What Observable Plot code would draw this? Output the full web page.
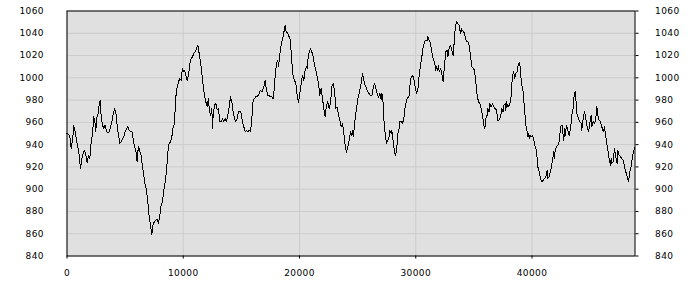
<!DOCTYPE html>
<html>
<head>
<meta charset="utf-8">
<script src="https://cdn.jsdelivr.net/npm/d3@7"></script>
<script src="https://cdn.jsdelivr.net/npm/@observablehq/plot@0.6"></script>
<style>
  html, body { margin: 0; padding: 0; background: #ffffff; }
  #chart svg { display: block; }
</style>
</head>
<body>
<div id="chart"></div>
<script>
const xValues = [
0,129,244,358,473,588,702,817,932,1046,1161,1276,1390,1505,1620,1735,1849,1964,2079,2193,
2308,2423,2480,2537,2652,2767,2853,2939,3053,3168,3283,3397,3512,3627,3741,3856,3971,4086,4200,4315,
4430,4544,4659,4774,4888,5003,5118,5232,5347,5462,5576,5691,5806,5920,6035,6092,6150,6264,6379,6494,
6608,6723,6838,6953,7067,7182,7297,7411,7526,7641,7755,7870,7985,8099,
8215,8330,8444,8559,8674,8788,8903,9018,9132,9247,9305,9362,9477,9591,9706,9821,9878,9935,10050,10107,
10222,10337,10451,10566,10681,10795,10910,11025,11139,11254,11369,11483,11598,11713,11827,11942,12057,12171,12229,12344,
12458,12516,12573,12688,12802,12917,13032,13146,13261,13376,13490,13605,13720,13834,13949,14064,14178,14293,14408,14522,
14637,14752,14866,14981,15096,15211,15325,15440,15555,15669,15784,15899,16013,16128,16243,
16416,16530,16645,16760,16874,16989,17046,17161,17276,17391,17505,17620,17735,17849,17907,18021,18136,18193,18251,18365,
18480,18595,18709,18767,18824,18881,18996,19053,19168,19225,19340,19455,19569,19684,19799,19913,20028,20143,20257,20372,
20487,20601,20659,20716,20831,20946,21060,21175,21290,21404,21519,21634,21748,21863,21978,22092,22207,22322,22436,22551,
22666,22781,22895,23010,23125,23239,23354,23469,23583,23698,23813,23927,24042,24157,24271,
24387,24502,24559,24616,24731,24788,24903,25018,25132,25247,25362,25419,25534,25648,25763,25878,25992,26107,26222,26336,
26451,26566,26680,26795,26910,27024,27082,27139,27197,27254,27369,27483,27598,27713,27770,27885,27942,28000,28114,28229,
28344,28458,28573,28630,28745,28860,28974,29089,29204,29318,29433,29490,29605,29720,29834,29949,30064,30178,30293,30408,
30522,30637,30752,30866,30981,31038,31153,31268,31382,31497,31612,31726,31784,31898,31956,32013,32128,32243,32357,
32416,32530,32588,32702,32760,32874,32989,33104,33218,33276,33333,33390,33505,33620,33734,33849,33907,33964,34021,34136,
34251,34365,34480,34595,34709,34824,34939,35053,35168,35283,35397,35512,35627,35741,35856,35942,36028,36143,36200,36315,
36372,36487,36602,36716,36831,36946,37060,37175,37290,37404,37519,37576,37691,37748,37806,37920,38035,38150,38207,38322,
38436,38494,38608,38723,38780,38838,38952,39010,39124,39239,39354,39468,39583,39641,39698,39755,39813,39927,40042,40157,
40271,40386,
40502,40616,40731,40846,40960,41075,41190,41304,41362,41476,41534,41648,41763,41878,41935,41993,42107,42222,42337,42451,
42509,42623,42681,42738,42795,42853,42967,43082,43197,43254,43311,43426,43541,43598,43655,43713,43770,43827,43885,43999,
44114,44229,44286,44401,44516,44630,44745,44860,44974,45089,45146,45261,45376,45490,45547,45605,45662,45777,45892,46006,
46121,46236,46293,46408,46522,46637,46752,46809,46866,46981,47096,47210,47325,47383,47497,47612,47727,47841,47956,48071,
48185,48300,48415,48529,48644,48759,48860
];

const yValues = [
950.0,949.1,947.9,936.5,944.0,956.9,951.5,944.0,938.0,930.5,918.6,927.5,932.0,935.0,930.5,924.0,930.5,927.5,942.5,950.0,
965.0,959.0,951.5,963.5,966.5,975.4,979.3,965.0,957.5,954.5,957.5,951.5,950.9,951.5,956.0,960.5,967.1,972.4,969.5,957.5,
948.5,941.0,942.5,944.9,947.0,951.5,954.5,956.0,953.0,951.5,952.1,944.9,938.0,935.0,924.6,933.5,938.0,934.1,930.5,920.1,
912.6,903.6,899.1,888.6,875.2,867.7,859.3,869.2,870.7,872.2,873.1,869.2,876.7,885.6,
888.6,899.1,906.6,915.6,933.5,941.0,942.5,947.0,956.0,959.0,972.4,982.9,991.9,996.4,999.4,997.9,1003.9,1008.4,1005.4,1006.9,
1002.4,997.9,1002.4,1012.9,1017.3,1018.8,1021.8,1023.3,1026.3,1029.3,1021.8,1014.4,1003.9,993.4,984.4,978.4,973.9,981.4,972.4,966.5,
972.4,954.5,966.5,975.4,976.9,971.0,972.4,960.5,960.5,963.5,960.5,963.5,960.5,966.5,973.9,982.9,978.4,969.5,963.5,960.5,
963.5,969.5,970.1,968.0,960.5,956.0,951.5,953.0,951.5,953.0,951.5,963.5,979.9,981.4,982.9,
983.8,985.9,988.9,987.4,990.4,993.4,997.9,988.9,984.4,983.8,982.9,982.9,981.4,991.9,1002.4,1012.9,1015.9,1009.9,1015.9,1026.3,
1032.3,1036.8,1044.3,1047.3,1042.8,1041.3,1039.8,1038.3,1035.3,1032.3,1014.4,1000.9,997.9,994.9,984.4,977.8,985.9,994.9,1002.4,997.9,
1006.9,1009.9,1008.4,1015.9,1023.3,1026.3,1023.3,1018.8,1011.4,1006.9,1000.9,994.9,984.4,990.4,981.4,972.4,965.0,975.4,978.4,972.4,
976.9,991.9,994.9,988.9,972.4,973.9,966.5,962.0,956.0,959.0,950.0,939.5,932.9,938.0,944.0,
951.5,948.5,953.0,947.0,956.0,963.5,972.4,981.4,985.9,991.9,999.4,1003.9,997.9,993.4,990.4,987.4,985.9,983.8,983.8,990.4,
994.9,990.4,985.9,982.0,985.9,980.8,985.9,984.4,976.9,963.5,950.0,941.0,944.0,947.0,953.0,950.0,953.0,948.5,938.0,930.5,
933.5,950.0,954.5,960.5,960.5,959.0,963.5,973.9,979.9,982.0,983.8,991.9,1000.9,1002.4,999.4,991.9,985.9,988.9,1002.4,1011.4,
1018.8,1027.8,1032.3,1033.8,1033.8,1037.4,1033.8,1030.8,1023.3,1017.3,1014.4,1006.9,1009.9,1006.9,1011.4,1005.4,1008.4,1003.9,996.4,
1003.9,1017.3,1023.3,1024.8,1018.8,1026.3,1029.3,1024.8,1020.3,1027.8,1035.3,1044.3,1050.3,1048.8,1047.3,1039.8,1044.3,1041.3,1042.8,1041.3,
1036.8,1032.3,1032.3,1029.3,1020.3,1009.9,1008.4,1006.9,996.4,984.4,978.4,976.9,972.4,966.5,957.5,954.5,963.5,966.5,972.4,969.5,
976.9,973.9,976.9,973.9,972.4,971.0,962.0,962.0,965.0,972.4,969.5,975.4,976.9,971.0,978.4,973.9,975.4,978.4,984.4,1002.4,
1005.4,999.4,1003.9,1005.4,1009.9,1012.9,1013.8,1003.9,993.4,987.4,972.4,957.5,951.5,947.0,950.0,945.5,948.5,947.0,948.5,944.0,
938.0,935.0,
920.1,915.6,909.6,906.6,908.1,909.6,911.1,917.1,909.6,911.1,914.1,918.6,926.1,933.5,927.5,935.0,938.0,939.5,942.5,954.5,
957.5,957.5,947.0,944.0,954.5,948.5,957.5,953.0,948.5,951.5,953.0,966.5,972.4,981.4,985.9,988.0,981.4,972.4,966.5,963.5,
960.5,959.0,953.0,963.5,969.5,963.5,956.0,951.5,959.0,966.5,956.0,960.5,959.0,962.0,973.9,972.4,966.5,962.0,960.5,956.0,
951.5,956.0,951.5,942.5,935.0,927.5,921.6,927.5,923.1,924.6,936.5,929.0,923.1,935.0,930.5,929.0,927.5,926.1,920.1,915.6,
911.1,906.6,915.6,920.1,929.0,935.0,938.0
];

const xTicks = [0, 10000, 20000, 30000, 40000];
const yTicks = [840, 860, 880, 900, 920, 940, 960, 980, 1000, 1020, 1040, 1060];
const xDomain = [0, 48860];
const yDomain = [840, 1060];

const data = xValues.map((x, i) => ({x, y: yValues[i]}));
const fmt = d => String(d);

const chart = Plot.plot({
  width: 700,
  height: 300,
  marginLeft: 66.5,
  marginRight: 65.5,
  marginTop: 10.5,
  marginBottom: 44.5,
  style: {fontFamily: "DejaVu Sans, sans-serif", fontSize: "9px", color: "#000", background: "#fff", letterSpacing: "0.4px"},
  x: {domain: xDomain, label: null},
  y: {domain: yDomain, label: null},
  marks: [
    Plot.frame({fill: "#e0e0e0", stroke: null}),
    Plot.gridX(xTicks, {stroke: "#cccccc", strokeOpacity: 1, strokeWidth: 1}),
    Plot.gridY(yTicks, {stroke: "#cccccc", strokeOpacity: 1, strokeWidth: 1}),
    Plot.line(data, {x: "x", y: "y", stroke: "#000", strokeWidth: 1, shapeRendering: "crispEdges"}),
    Plot.frame({stroke: "#000", strokeWidth: 1}),
    Plot.axisY(yTicks, {anchor: "left", tickSize: 0, tickPadding: 23, tickFormat: fmt, label: null, fill: "#000"}),
    Plot.axisY(yTicks, {anchor: "right", tickSize: 3, tickPadding: 17, tickFormat: fmt, label: null, fill: "#000", stroke: "#000"}),
    Plot.axisX(xTicks, {anchor: "bottom", tickSize: 3, tickPadding: 11, tickFormat: fmt, label: null, fill: "#000", stroke: "#000"})
  ]
});
document.getElementById("chart").appendChild(chart);
</script>
</body>
</html>
